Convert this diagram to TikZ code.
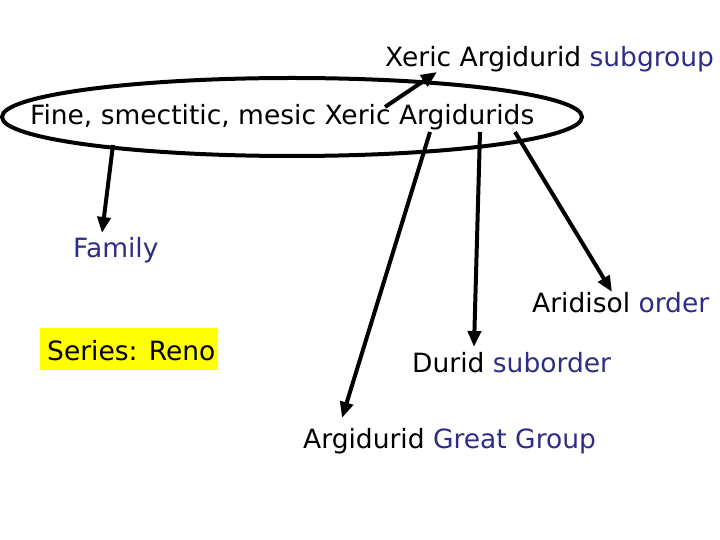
\documentclass[tikz,border=0pt]{standalone}
\usepackage{fontspec}
\setmainfont{DejaVu Sans}
\usetikzlibrary{shapes.geometric,arrows.meta}

\definecolor{rankblue}{RGB}{45,45,135}
\definecolor{seriesyellow}{RGB}{255,255,0}

\begin{document}
\begin{tikzpicture}[ % pixel grid of the slide, y runs down
x=1bp, y=-1bp,
soil_text/.style={anchor=base west, inner sep=0pt, font=\fontsize{26.5bp}{30bp}\selectfont},
rank/.style={text=rankblue},
ring/.style={ellipse, draw=black, line width=4bp, minimum width=580bp, minimum height=78bp, inner sep=0pt},
series_box/.style={rectangle, fill=seriesyellow, minimum width=178bp, minimum height=42bp, inner sep=0pt},
out_arrow/.style={-{Triangle[length=16bp,width=13bp]}, line width=4bp}
]
\useasboundingbox (0,0) rectangle (720,540);

\node[ring](name_ring) at (292,117) {};
\node[soil_text](full_name) at (30,125) {Fine, smectitic, mesic Xeric Argidurids};

\node[soil_text](subgroup) at (385,67) {Xeric Argidurid \textcolor{rankblue}{subgroup}};
\node[soil_text, rank](family) at (73,258) {Family};
\node[soil_text](order) at (532,312) {Aridisol \textcolor{rankblue}{order}};
\node[series_box](series) at (129,349) {};
\node[soil_text](series_text) at (47,360) {Series: Reno};
\node[soil_text](suborder) at (412,372) {Durid \textcolor{rankblue}{suborder}};
\node[soil_text](great_group) at (303,448) {Argidurid \textcolor{rankblue}{Great Group}};

% where the arrows leave the ring and where they stop
\coordinate (from_subgroup) at (385,107);
\coordinate (to_subgroup) at (437,72);
\coordinate (from_family) at (113,145);
\coordinate (to_family) at (102,233);
\coordinate (from_great) at (430,132);
\coordinate (to_great) at (342,418);
\coordinate (from_suborder) at (480,132);
\coordinate (to_suborder) at (474,347);
\coordinate (from_order) at (515,132);
\coordinate (to_order) at (612,292);

\draw[out_arrow](from_subgroup) to [] (to_subgroup);
\draw[out_arrow](from_family) to [] (to_family);
\draw[out_arrow](from_great) to [] (to_great);
\draw[out_arrow](from_suborder) to [] (to_suborder);
\draw[out_arrow](from_order) to [] (to_order);

\end{tikzpicture}
\end{document}
